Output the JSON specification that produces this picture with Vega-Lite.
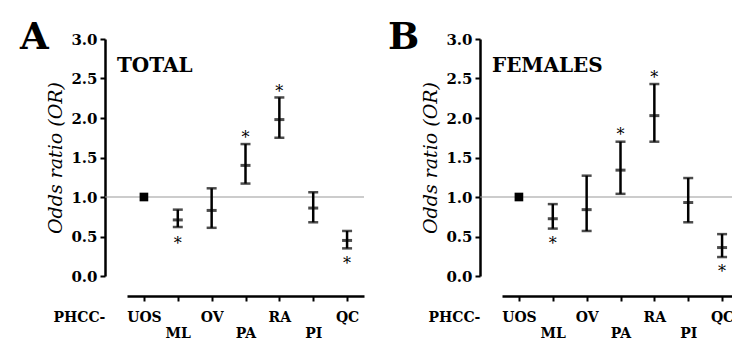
{
  "$schema": "https://vega.github.io/schema/vega-lite/v6.json",
  "padding": {"left": 20, "top": 19, "right": 0, "bottom": 0},
  "spacing": 23,
  "config": {
    "font": "DejaVu Serif",
    "view": {"stroke": null},
    "axisY": {
      "domainColor": "black", "domainWidth": 2.5, "tickColor": "black", "tickWidth": 2, "tickSize": 5,
      "labelFontSize": 15, "labelFontWeight": "bold", "labelColor": "black", "labelPadding": 3, "labelOverlap": false,
      "titleFontSize": 19, "titleFontStyle": "italic", "titleFontWeight": "normal", "titleColor": "black", "titlePadding": 5,
      "grid": false
    },
    "axisX": {
      "offset": 20, "domainColor": "black", "domainWidth": 2.5, "tickColor": "black", "tickWidth": 2, "tickSize": 5,
      "labelAngle": 0, "labelFontSize": 14, "labelFontWeight": "bold", "labelColor": "black", "labelOverlap": false,
      "labelBaseline": "top",
      "labelPadding": {"condition": {"test": "indexof(['ML','PA','PI'], datum.value) >= 0", "value": 25}, "value": 9},
      "titleAngle": 0, "titleFontSize": 14, "titleFontWeight": "bold", "titleColor": "black",
      "titleAlign": "left", "titleBaseline": "top", "titleX": -52, "titleY": 14, "grid": false
    },
    "title": {"anchor": "start", "frame": "group", "fontSize": 37, "fontWeight": "bold", "color": "black", "baseline": "alphabetic", "offset": 0, "dy": 29}
  },
  "hconcat": [
    {
      "title": {"text": "A", "dx": -85},
      "width": 259, "height": 237,
      "data": {"values": [
        {"cat": "UOS", "mean": 1.0, "lo": null, "hi": null, "star": null},
        {"cat": "ML", "mean": 0.71, "lo": 0.62, "hi": 0.84, "star": 0.46},
        {"cat": "OV", "mean": 0.83, "lo": 0.61, "hi": 1.11, "star": null},
        {"cat": "PA", "mean": 1.40, "lo": 1.17, "hi": 1.67, "star": 1.80},
        {"cat": "RA", "mean": 1.98, "lo": 1.75, "hi": 2.26, "star": 2.38},
        {"cat": "PI", "mean": 0.86, "lo": 0.68, "hi": 1.06, "star": null},
        {"cat": "QC", "mean": 0.45, "lo": 0.35, "hi": 0.57, "star": 0.20}
      ]},
      "encoding": {
        "x": {"field": "cat", "type": "nominal", "sort": null,
          "scale": {"type": "point", "domain": ["UOS", "ML", "OV", "PA", "RA", "PI", "QC"], "range": [22, 259], "padding": 0.5},
          "axis": {"title": "PHCC-"}}
      },
      "layer": [
        {"data": {"values": [{"ref": 1}]}, "mark": {"type": "rule", "color": "#999999", "strokeWidth": 1},
         "encoding": {"x": null, "y": {"field": "ref", "type": "quantitative", "scale": {"domain": [0, 3], "nice": false},
           "axis": {"values": [0, 0.5, 1, 1.5, 2, 2.5, 3], "tickCount": 7, "labelOverlap": false, "format": ".1f", "title": "Odds ratio (OR)"}}}},
        {"transform": [{"filter": "datum.cat != 'UOS'"}], "mark": {"type": "rule", "color": "black", "strokeWidth": 2.5},
         "encoding": {"y": {"field": "lo", "type": "quantitative", "axis": {"values": [0, 0.5, 1, 1.5, 2, 2.5, 3], "tickCount": 7, "labelOverlap": false, "format": ".1f", "title": "Odds ratio (OR)"}}, "y2": {"field": "hi"}}},
        {"transform": [{"filter": "datum.cat != 'UOS'"}], "mark": {"type": "tick", "color": "black", "size": 10, "thickness": 2.5},
         "encoding": {"y": {"field": "lo", "type": "quantitative", "axis": {"values": [0, 0.5, 1, 1.5, 2, 2.5, 3], "tickCount": 7, "labelOverlap": false, "format": ".1f", "title": "Odds ratio (OR)"}}}},
        {"transform": [{"filter": "datum.cat != 'UOS'"}], "mark": {"type": "tick", "color": "black", "size": 10, "thickness": 2.5},
         "encoding": {"y": {"field": "hi", "type": "quantitative", "axis": {"values": [0, 0.5, 1, 1.5, 2, 2.5, 3], "tickCount": 7, "labelOverlap": false, "format": ".1f", "title": "Odds ratio (OR)"}}}},
        {"transform": [{"filter": "datum.cat != 'UOS'"}], "mark": {"type": "tick", "color": "black", "size": 10, "thickness": 3},
         "encoding": {"y": {"field": "mean", "type": "quantitative", "axis": {"values": [0, 0.5, 1, 1.5, 2, 2.5, 3], "tickCount": 7, "labelOverlap": false, "format": ".1f", "title": "Odds ratio (OR)"}}}},
        {"transform": [{"filter": "datum.cat == 'UOS'"}], "mark": {"type": "point", "shape": "square", "filled": true, "color": "black", "size": 75, "opacity": 1},
         "encoding": {"y": {"field": "mean", "type": "quantitative", "axis": {"values": [0, 0.5, 1, 1.5, 2, 2.5, 3], "tickCount": 7, "labelOverlap": false, "format": ".1f", "title": "Odds ratio (OR)"}}}},
        {"transform": [{"filter": "datum.star != null"}], "mark": {"type": "text", "text": "*", "fontSize": 16, "color": "black", "baseline": "middle", "dy": 4},
         "encoding": {"y": {"field": "star", "type": "quantitative", "axis": {"values": [0, 0.5, 1, 1.5, 2, 2.5, 3], "tickCount": 7, "labelOverlap": false, "format": ".1f", "title": "Odds ratio (OR)"}}}},
        {"data": {"values": [{"label": "TOTAL"}]}, "mark": {"type": "text", "fontSize": 20, "fontWeight": "bold", "color": "black", "align": "left", "baseline": "middle", "dx": -27},
         "encoding": {"x": {"datum": "UOS", "type": "nominal"}, "y": {"datum": 2.66, "type": "quantitative", "axis": {"values": [0, 0.5, 1, 1.5, 2, 2.5, 3], "tickCount": 7, "labelOverlap": false, "format": ".1f", "title": "Odds ratio (OR)"}}, "text": {"field": "label"}}}
      ]
    },
    {
      "title": {"text": "B", "dx": -92},
      "width": 259, "height": 237,
      "data": {"values": [
        {"cat": "UOS", "mean": 1.0, "lo": null, "hi": null, "star": null},
        {"cat": "ML", "mean": 0.725, "lo": 0.60, "hi": 0.91, "star": 0.46},
        {"cat": "OV", "mean": 0.84, "lo": 0.57, "hi": 1.27, "star": null},
        {"cat": "PA", "mean": 1.34, "lo": 1.04, "hi": 1.70, "star": 1.83},
        {"cat": "RA", "mean": 2.03, "lo": 1.70, "hi": 2.43, "star": 2.56},
        {"cat": "PI", "mean": 0.93, "lo": 0.68, "hi": 1.24, "star": null},
        {"cat": "QC", "mean": 0.36, "lo": 0.24, "hi": 0.53, "star": 0.10}
      ]},
      "encoding": {
        "x": {"field": "cat", "type": "nominal", "sort": null,
          "scale": {"type": "point", "domain": ["UOS", "ML", "OV", "PA", "RA", "PI", "QC"], "range": [22, 259], "padding": 0.5},
          "axis": {"title": "PHCC-"}}
      },
      "layer": [
        {"data": {"values": [{"ref": 1}]}, "mark": {"type": "rule", "color": "#999999", "strokeWidth": 1},
         "encoding": {"x": null, "y": {"field": "ref", "type": "quantitative", "scale": {"domain": [0, 3], "nice": false},
           "axis": {"values": [0, 0.5, 1, 1.5, 2, 2.5, 3], "tickCount": 7, "labelOverlap": false, "format": ".1f", "title": "Odds ratio (OR)"}}}},
        {"transform": [{"filter": "datum.cat != 'UOS'"}], "mark": {"type": "rule", "color": "black", "strokeWidth": 2.5},
         "encoding": {"y": {"field": "lo", "type": "quantitative", "axis": {"values": [0, 0.5, 1, 1.5, 2, 2.5, 3], "tickCount": 7, "labelOverlap": false, "format": ".1f", "title": "Odds ratio (OR)"}}, "y2": {"field": "hi"}}},
        {"transform": [{"filter": "datum.cat != 'UOS'"}], "mark": {"type": "tick", "color": "black", "size": 10, "thickness": 2.5},
         "encoding": {"y": {"field": "lo", "type": "quantitative", "axis": {"values": [0, 0.5, 1, 1.5, 2, 2.5, 3], "tickCount": 7, "labelOverlap": false, "format": ".1f", "title": "Odds ratio (OR)"}}}},
        {"transform": [{"filter": "datum.cat != 'UOS'"}], "mark": {"type": "tick", "color": "black", "size": 10, "thickness": 2.5},
         "encoding": {"y": {"field": "hi", "type": "quantitative", "axis": {"values": [0, 0.5, 1, 1.5, 2, 2.5, 3], "tickCount": 7, "labelOverlap": false, "format": ".1f", "title": "Odds ratio (OR)"}}}},
        {"transform": [{"filter": "datum.cat != 'UOS'"}], "mark": {"type": "tick", "color": "black", "size": 10, "thickness": 3},
         "encoding": {"y": {"field": "mean", "type": "quantitative", "axis": {"values": [0, 0.5, 1, 1.5, 2, 2.5, 3], "tickCount": 7, "labelOverlap": false, "format": ".1f", "title": "Odds ratio (OR)"}}}},
        {"transform": [{"filter": "datum.cat == 'UOS'"}], "mark": {"type": "point", "shape": "square", "filled": true, "color": "black", "size": 75, "opacity": 1},
         "encoding": {"y": {"field": "mean", "type": "quantitative", "axis": {"values": [0, 0.5, 1, 1.5, 2, 2.5, 3], "tickCount": 7, "labelOverlap": false, "format": ".1f", "title": "Odds ratio (OR)"}}}},
        {"transform": [{"filter": "datum.star != null"}], "mark": {"type": "text", "text": "*", "fontSize": 16, "color": "black", "baseline": "middle", "dy": 4},
         "encoding": {"y": {"field": "star", "type": "quantitative", "axis": {"values": [0, 0.5, 1, 1.5, 2, 2.5, 3], "tickCount": 7, "labelOverlap": false, "format": ".1f", "title": "Odds ratio (OR)"}}}},
        {"data": {"values": [{"label": "FEMALES"}]}, "mark": {"type": "text", "fontSize": 20, "fontWeight": "bold", "color": "black", "align": "left", "baseline": "middle", "dx": -27},
         "encoding": {"x": {"datum": "UOS", "type": "nominal"}, "y": {"datum": 2.66, "type": "quantitative", "axis": {"values": [0, 0.5, 1, 1.5, 2, 2.5, 3], "tickCount": 7, "labelOverlap": false, "format": ".1f", "title": "Odds ratio (OR)"}}, "text": {"field": "label"}}}
      ]
    }
  ]
}
